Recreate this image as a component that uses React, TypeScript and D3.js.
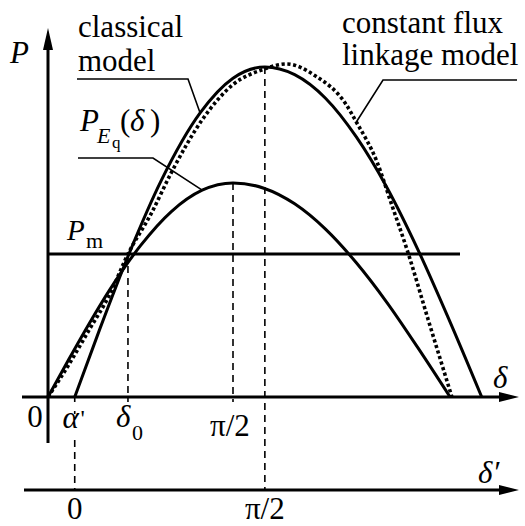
import React from "react";
import * as d3 from "d3";

const W = 525;
const H = 526;

// Rotor angle δ in degrees, electrical power P in per-unit.
const pEqDelta = [0, 10, 20, 30, 45, 60, 75, 90, 105, 120, 135, 150, 165, 180, 195.6];
const pEqPower = [0, 0.169, 0.333, 0.487, 0.688, 0.843, 0.94, 0.973, 0.949, 0.878, 0.763, 0.61, 0.428, 0.223, 0];

const classicalDelta = [13, 25, 40, 55, 74, 90, 105.5, 120, 135, 150, 165, 180, 195, 211];
const classicalPower = [0, 0.304, 0.664, 0.982, 1.291, 1.449, 1.5, 1.465, 1.358, 1.182, 0.95, 0.669, 0.354, 0];

const fluxDelta = [0, 10, 20, 30, 38.9, 50, 60, 75, 90, 105, 116, 130, 145, 150, 160, 167, 175, 185, 196.5];
const fluxPower = [0, 0.145, 0.305, 0.465, 0.65, 0.83, 1.02, 1.26, 1.42, 1.49, 1.514, 1.46, 1.33, 1.25, 1.07, 0.88, 0.66, 0.35, 0];

const mechanicalPower = 0.65;
const delta0 = 38.9;
const alphaPrime = 13;
const deltaPrimeTicks = [0, 90];
const deltaPrimeTickLabels = ["0", "π/2"];

// where each caption's leader line touches its curve (δ in degrees)
const classicalLeaderAt = 74;
const pEqLeaderAt = 75;
const fluxLeaderAt = 150;

const FONT = "Liberation Serif";

const zip = (a: number[], b: number[]) => a.map((v, i) => [v, b[i]] as [number, number]);

function T(props: any) {
  const { children, size = 31, italic = false, ...rest } = props;
  return (
    <text
      {...rest}
      fontSize={size}
      fontStyle={italic ? "italic" : undefined}
      fill="#000"
      style={{ fontFamily: FONT }}
    >
      {children}
    </text>
  );
}

export default function App() {
  const x = d3.scaleLinear().domain([0, 90]).range([48, 233]);
  const y = d3.scaleLinear().domain([0, 1.5]).range([397, 67]);

  const classicalPeakIdx = d3.maxIndex(classicalPower);
  const pEqPeakIdx = d3.maxIndex(pEqPower);
  // δ' = δ − α', with δ' = π/2 at the classical-model peak
  const xPrime = d3
    .scaleLinear()
    .domain([0, 90])
    .range([x(alphaPrime), x(classicalDelta[classicalPeakIdx])]);

  const line = d3
    .line<[number, number]>()
    .x((d) => x(d[0]))
    .y((d) => y(d[1]))
    .curve(d3.curveMonotoneX);

  const axisY = y(0);
  const primeAxisY = 490;
  const axisX = x(0);

  const pAt = (ds: number[], ps: number[], d: number) => ps[ds.indexOf(d)];

  const thin = { stroke: "#000", strokeWidth: 1.6, fill: "none" };
  const dash = { stroke: "#000", strokeWidth: 1.6, strokeDasharray: "7 5", fill: "none" };

  const arrowRight = (xe: number, ye: number) =>
    `${xe},${ye} ${xe - 20},${ye - 5} ${xe - 20},${ye + 5}`;

  return (
    <svg width={W} height={H} style={{ position: "absolute", left: 0, top: 0 }}>
      {/* axes */}
      <line x1={axisX} y1={443} x2={axisX} y2={46} stroke="#000" strokeWidth={3} />
      <polygon points={`${axisX},28 ${axisX - 5},50 ${axisX + 5},50`} fill="#000" />
      <line x1={22} y1={axisY} x2={505} y2={axisY} stroke="#000" strokeWidth={3} />
      <polygon points={arrowRight(519, axisY)} fill="#000" />
      <line x1={24} y1={primeAxisY} x2={505} y2={primeAxisY} stroke="#000" strokeWidth={3} />
      <polygon points={arrowRight(519, primeAxisY)} fill="#000" />

      {/* guide lines */}
      <line x1={x(delta0)} y1={y(mechanicalPower)} x2={x(delta0)} y2={axisY + 5} {...dash} />
      <line
        x1={x(pEqDelta[pEqPeakIdx])}
        y1={y(pEqPower[pEqPeakIdx])}
        x2={x(pEqDelta[pEqPeakIdx])}
        y2={axisY + 5}
        {...dash}
      />
      <line
        x1={xPrime(90)}
        y1={y(classicalPower[classicalPeakIdx])}
        x2={xPrime(90)}
        y2={primeAxisY}
        {...dash}
      />
      <line x1={x(alphaPrime)} y1={axisY} x2={x(alphaPrime)} y2={axisY + 5} {...thin} />
      <line x1={x(alphaPrime)} y1={411} x2={x(alphaPrime)} y2={414} {...thin} />
      <line x1={x(alphaPrime)} y1={440} x2={x(alphaPrime)} y2={primeAxisY} {...dash} />

      {/* mechanical power */}
      <line
        x1={axisX}
        y1={y(mechanicalPower)}
        x2={460}
        y2={y(mechanicalPower)}
        stroke="#000"
        strokeWidth={3}
      />

      {/* power-angle curves */}
      <path d={line(zip(pEqDelta, pEqPower)) || ""} fill="none" stroke="#000" strokeWidth={3} />
      <path
        d={line(zip(classicalDelta, classicalPower)) || ""}
        fill="none"
        stroke="#000"
        strokeWidth={3}
      />
      <path
        d={line(zip(fluxDelta, fluxPower)) || ""}
        fill="none"
        stroke="#000"
        strokeWidth={3.6}
        strokeDasharray="3.2 2.6"
      />

      {/* caption leaders */}
      <polyline
        points={`77,79 188,79 ${x(classicalLeaderAt)},${y(pAt(classicalDelta, classicalPower, classicalLeaderAt))}`}
        {...thin}
      />
      <polyline
        points={`78,158 153,158 ${x(pEqLeaderAt)},${y(pAt(pEqDelta, pEqPower, pEqLeaderAt))}`}
        {...thin}
      />
      <polyline
        points={`517,80 383,80 ${x(fluxLeaderAt)},${y(pAt(fluxDelta, fluxPower, fluxLeaderAt))}`}
        {...thin}
      />

      {/* captions */}
      <T x={78} y={37}>classical</T>
      <T x={78} y={71}>model</T>
      <T x={342} y={33}>constant flux</T>
      <T x={342} y={65}>linkage model</T>

      <T x={10} y={63} italic>P</T>

      <T x={80} y={131} italic>P</T>
      <T x={97} y={143} italic size={22}>E</T>
      <T x={112} y={148} size={17}>q</T>
      <T x={120} y={131}>(</T>
      <T x={130} y={131} italic>δ</T>
      <T x={150} y={131}>)</T>

      <T x={67} y={240} italic size={29}>P</T>
      <T x={86} y={248} size={22}>m</T>

      <T x={35} y={427} textAnchor="middle">0</T>
      <T x={x(alphaPrime) - 4} y={428} textAnchor="middle" italic>α</T>
      <T x={x(alphaPrime) + 8} y={426} textAnchor="middle" size={24}>'</T>
      <T x={x(delta0) - 12} y={427} italic>δ</T>
      <T x={x(delta0) + 4} y={440} size={22}>0</T>
      <T x={x(90) - 3} y={436} textAnchor="middle">π/2</T>

      {deltaPrimeTicks.map((t, i) => (
        <T key={i} x={xPrime(t)} y={519} textAnchor="middle">
          {deltaPrimeTickLabels[i]}
        </T>
      ))}

      <T x={493} y={388} italic>δ</T>
      <T x={478} y={483} italic>δ′</T>
    </svg>
  );
}
